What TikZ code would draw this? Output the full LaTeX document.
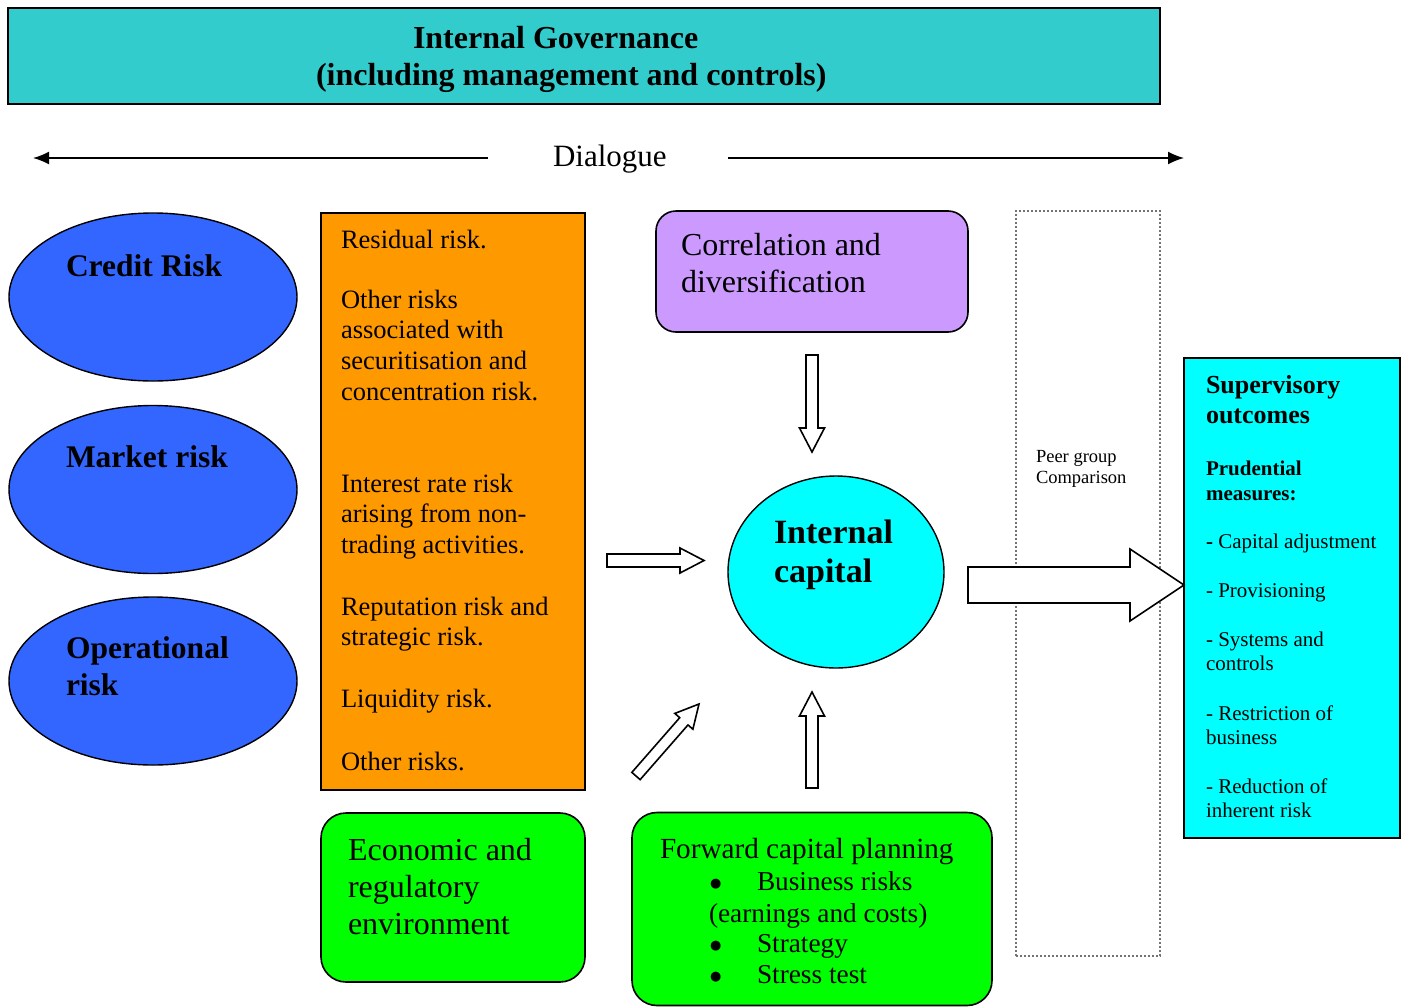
\documentclass[tikz,border=0pt]{standalone}
\usepackage{fontspec}
\usepackage{graphicx}
\setmainfont{Liberation Serif}
\newfontfamily\bulfont{DejaVu Sans}
\usetikzlibrary{shapes.geometric,calc,arrows.meta}
\definecolor{govteal}{HTML}{33CCCC}
\definecolor{riskblue}{HTML}{3366FF}
\definecolor{riskorange}{HTML}{FF9900}
\definecolor{corrpurple}{HTML}{CC99FF}
\definecolor{capcyan}{HTML}{00FFFF}
\definecolor{envgreen}{HTML}{00FF00}
\newcommand\lns[1]{\begin{tabular}[t]{@{}l@{}}#1\end{tabular}}
\newcommand\bigbul{{\bulfont\fontsize{13}{14}\selectfont\raisebox{3pt}{●}}}
\newcommand\blockarrow[5]{%
  \coordinate (baB) at ($(#2)!#5!(#1)$);
  \draw[blockarr] ($(#1)!#3!90:(#2)$) -- ($(baB)!#3!-90:(#1)$) -- ($(baB)!#4!-90:(#1)$) -- (#2)
    -- ($(baB)!#4!90:(#1)$) -- ($(baB)!#3!90:(#1)$) -- ($(#1)!#3!-90:(#2)$) -- cycle;}
\tikzset{
  box/.style={draw=black, line width=1.6pt, inner sep=0pt, outer sep=0pt},
  oval/.style={ellipse, draw=black, line width=1.4pt, inner sep=0pt, outer sep=0pt},
  txt/.style={anchor=base west, inner sep=0pt, outer sep=0pt},
  blockarr/.style={draw=black, fill=white, line width=1.6pt, line join=miter},
  dlg/.style={line width=1.6pt, -{Latex[length=16pt,width=13pt]}},
}
\begin{document}
\begin{tikzpicture}[x=1pt,y=-1pt]
\fill[white] (0,0) rectangle (1408,1007);
\useasboundingbox (0,0) rectangle (1408,1007);

% top governance box
\node[box, fill=govteal, minimum width=1152pt, minimum height=96pt] (gov) at (584,56) {};
\node[txt, font={\fontsize{32}{37}\selectfont\bfseries}] (govA) at (413,48) {Internal Governance};
\node[txt, font={\fontsize{32}{37}\selectfont\bfseries}] (govB) at (316,85) {(including management and controls)};

% dialogue
\node[txt, font={\fontsize{31}{36}\selectfont}] (dia) at (553,166) {Dialogue};
\coordinate (dlLs) at (488,158);
\coordinate (dlLe) at (33,158);
\coordinate (dlRs) at (728,158);
\coordinate (dlRe) at (1184,158);
\draw[dlg] (dlLs) -- (dlLe);
\draw[dlg] (dlRs) -- (dlRe);

% risk ellipses
\node[oval, fill=riskblue, minimum width=288pt, minimum height=168pt] (credit) at (153,297) {};
\node[oval, fill=riskblue, minimum width=288pt, minimum height=168pt] (market) at (153,489.5) {};
\node[oval, fill=riskblue, minimum width=288pt, minimum height=168pt] (oper) at (153,681) {};
\node[txt, font={\fontsize{31.5}{37}\selectfont\bfseries}] (creditT) at (66,276) {Credit Risk};
\node[txt, font={\fontsize{31.5}{37}\selectfont\bfseries}] (marketT) at (66,467) {Market risk};
\node[txt, font={\fontsize{31.5}{37}\selectfont\bfseries}] (operT) at (66,658) {\lns{Operational\\risk}};

% orange box
\node[box, fill=riskorange, minimum width=264pt, minimum height=577pt] (other) at (453,501.5) {};
\begin{scope}[every node/.style={txt, font={\fontsize{26.5}{30.7}\selectfont}}]
\node (o1) at (341,248) {Residual risk.};
\node (o2) at (341,308) {\lns{Other risks\\associated with\\securitisation and\\concentration risk.}};
\node (o3) at (341,492) {\lns{Interest rate risk\\arising from non-\\trading activities.}};
\node (o4) at (341,615) {\lns{Reputation risk and\\strategic risk.}};
\node (o5) at (341,707) {Liquidity risk.};
\node (o6) at (341,770) {Other risks.};
\end{scope}

% correlation box
\node[box, fill=corrpurple, rounded corners=20pt, minimum width=312pt, minimum height=121pt] (corr) at (812,271.5) {};
\node[txt, font={\fontsize{32}{37}\selectfont}] (corrT) at (681,255) {\lns{Correlation and\\diversification}};

% internal capital
\node[oval, fill=capcyan, minimum width=216pt, minimum height=192pt] (cap) at (836,572) {};
\node[txt, font={\fontsize{34}{39.5}\selectfont\bfseries}] (capT) at (774,543) {\lns{Internal\\capital}};

% economic box
\node[box, fill=envgreen, rounded corners=25pt, minimum width=264pt, minimum height=169pt] (econ) at (453,897.5) {};
\node[txt, font={\fontsize{32}{37}\selectfont}] (econT) at (348,860) {\lns{Economic and\\regulatory\\environment}};

% forward planning box
\node[box, fill=envgreen, rounded corners=25pt, minimum width=360pt, minimum height=193pt] (fwd) at (812,909) {};
\node[txt, font={\fontsize{29.2}{33}\selectfont}] (f0) at (660,858) {Forward capital planning};
\begin{scope}[every node/.style={txt, font={\fontsize{27.3}{31.5}\selectfont}}]
\node (fb1) at (710,890) {\bigbul};
\node (f1) at (757,890) {Business risks};
\node (f2) at (709,922) {(earnings and costs)};
\node (fb2) at (710,952) {\bigbul};
\node (f3) at (757,952) {Strategy};
\node (fb3) at (710,983) {\bigbul};
\node (f4) at (757,983) {Stress test};
\end{scope}

% peer group dotted box
\node[draw=black!55, line width=2pt, dash pattern=on 2pt off 2pt, minimum width=144pt, minimum height=745pt, inner sep=0pt] (peer) at (1088,583.5) {};
\node[txt, font={\fontsize{18.5}{21}\selectfont}] (peerT) at (1036,462) {\lns{Peer group\\Comparison}};

% supervisory outcomes
\node[box, fill=capcyan, minimum width=216pt, minimum height=480pt] (sup) at (1292,598) {};
\node[txt, font={\fontsize{26}{30}\selectfont\bfseries}] (s0) at (1206,393) {\lns{Supervisory\\outcomes}};
\node[txt, font={\fontsize{21}{25}\selectfont\bfseries}] (s1) at (1206,475) {\lns{Prudential\\measures:}};
\begin{scope}[every node/.style={txt, font={\fontsize{21}{24}\selectfont}}]
\node (s2) at (1206,548) {\textbf{-} Capital adjustment};
\node (s3) at (1206,597) {- Provisioning};
\node (s4) at (1206,646) {\lns{- Systems and\\controls}};
\node (s5) at (1206,720) {\lns{- Restriction of\\business}};
\node (s6) at (1206,793) {\lns{- Reduction of\\inherent risk}};
\end{scope}

% block arrows
\coordinate (aDnS) at (812,355);   \coordinate (aDnE) at (812,452);
\coordinate (aRtS) at (607,560.5); \coordinate (aRtE) at (704,560.5);
\coordinate (aDgS) at (636,776);   \coordinate (aDgE) at (699,704);
\coordinate (aUpS) at (812,788);   \coordinate (aUpE) at (812,692);
\coordinate (aBgS) at (968,585);   \coordinate (aBgE) at (1184,585);
\blockarrow{aDnS}{aDnE}{6pt}{12.5pt}{24pt}
\blockarrow{aRtS}{aRtE}{6.5pt}{12.5pt}{24pt}
\blockarrow{aDgS}{aDgE}{5.5pt}{12pt}{23pt}
\blockarrow{aUpS}{aUpE}{6pt}{12.5pt}{24pt}
\blockarrow{aBgS}{aBgE}{18pt}{36pt}{54pt}
\end{tikzpicture}
\end{document}
